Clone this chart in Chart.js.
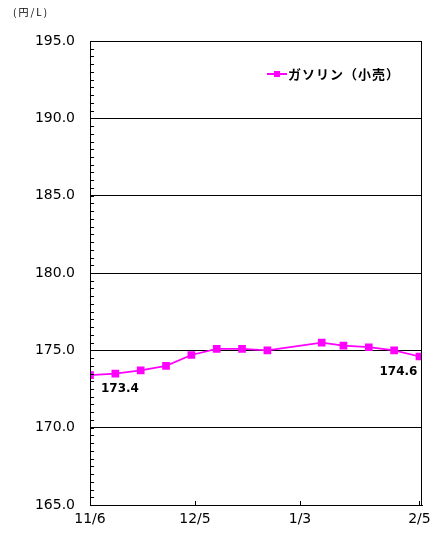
<!DOCTYPE html>
<html>
<head>
<meta charset="utf-8">
<script src="https://cdn.jsdelivr.net/npm/chart.js@4.4.1/dist/chart.umd.min.js"></script>
<style>
	html, body { margin: 0; padding: 0; background: #fff; }
	#wrap { width: 443px; height: 539px; position: relative; }
</style>
</head>
<body>
<div id="wrap"><canvas id="gasChart"></canvas></div>
<script>
// weekly survey dates and retail gasoline price (yen / litre)
const surveyDates = ['2023-11-06', '2023-11-13', '2023-11-20', '2023-11-27', '2023-12-04', '2023-12-11',
	'2023-12-18', '2023-12-25', '2024-01-09', '2024-01-15', '2024-01-22', '2024-01-29', '2024-02-05'];
const gasolinePrices = [173.4, 173.5, 173.7, 174.0, 174.7, 175.1, 175.1, 175.0, 175.5, 175.3, 175.2, 175.0, 174.6];

// x-axis labels and where they sit
const tickDates = ['2023-11-06', '2023-12-05', '2024-01-03', '2024-02-05'];
const tickLabels = ['11/6', '12/5', '1/3', '2/5'];

const seriesName = 'ガソリン（小売）';
const unitLabel = '(円/L)';

const DAY = 86400000;
const start = Date.parse(surveyDates[0]);
const dayOf = (d) => Math.round((Date.parse(d) - start) / DAY);

const points = surveyDates.map((d, i) => ({ x: dayOf(d), y: gasolinePrices[i] }));
const tickDays = tickDates.map(dayOf);

const tickFont = { family: 'DejaVu Sans', size: 14 };
const magenta = '#ff00ff';

// frame, inside tick marks, legend, unit and end-point labels
const decorations = {
	id: 'decorations',
	afterDatasetsDraw(chart) {
		const { ctx, chartArea: a, scales: { x, y } } = chart;
		ctx.save();
		ctx.strokeStyle = '#000';
		ctx.lineWidth = 1;
		ctx.strokeRect(a.left + 0.5, a.top + 0.5, a.right - a.left - 1, a.bottom - a.top);

		// minor ticks on y axis every 0.5
		ctx.beginPath();
		for (let v = y.min; v <= y.max + 0.001; v += 0.5) {
			const py = Math.round(y.getPixelForValue(v)) + 0.5;
			ctx.moveTo(a.left, py);
			ctx.lineTo(a.left + 4, py);
		}
		// x ticks pointing up
		tickDays.slice(1).forEach(d => {
			const px = Math.round(x.getPixelForValue(d)) + 0.5;
			ctx.moveTo(px, a.bottom);
			ctx.lineTo(px, a.bottom - 4);
		});
		ctx.stroke();

		// legend
		const lx = 267, ly = 74;
		ctx.strokeStyle = magenta;
		ctx.lineWidth = 2;
		ctx.beginPath();
		ctx.moveTo(lx, ly);
		ctx.lineTo(lx + 20, ly);
		ctx.stroke();
		ctx.fillStyle = magenta;
		ctx.fillRect(lx + 7, ly - 3, 6, 6);
		ctx.fillStyle = '#000';
		ctx.font = 'bold 13px "Noto Sans CJK JP"';
		ctx.textBaseline = 'middle';
		ctx.textAlign = 'left';
		ctx.letterSpacing = '1px';
		ctx.fillText(seriesName, lx + 21, ly);

		// unit
		ctx.font = '10px "Noto Sans CJK JP"';
		ctx.letterSpacing = '2px';
		ctx.fillText(unitLabel, 13, 12);
		ctx.letterSpacing = '0px';

		// first and last values
		const meta = chart.getDatasetMeta(0).data;
		const first = meta[0], last = meta[meta.length - 1];
		ctx.font = 'bold 12px "DejaVu Sans"';
		ctx.textAlign = 'left';
		ctx.fillText(gasolinePrices[0].toFixed(1), first.x + 11, first.y + 14);
		ctx.textAlign = 'right';
		ctx.fillText(gasolinePrices[gasolinePrices.length - 1].toFixed(1), last.x - 2, last.y + 15);
		ctx.restore();
	}
};

new Chart(document.getElementById('gasChart'), {
	type: 'line',
	data: {
		datasets: [{
			label: seriesName,
			data: points,
			borderColor: magenta,
			backgroundColor: magenta,
			borderWidth: 1.75,
			pointStyle: 'rect',
			pointRadius: 4.2,
			pointHoverRadius: 4.2,
			tension: 0
		}]
	},
	options: {
		responsive: true,
		maintainAspectRatio: false,
		animation: false,
		layout: { padding: { left: 0, right: 21, top: 41, bottom: 0 } },
		plugins: {
			legend: { display: false },
			tooltip: { enabled: false }
		},
		scales: {
			x: {
				type: 'linear',
				min: 0,
				max: 91.7,
				afterFit: (s) => { s.height = 34; },
				afterBuildTicks: (s) => { s.ticks = tickDays.map(v => ({ value: v })); },
				grid: { display: false, drawTicks: false },
				border: { display: true, color: '#000', width: 1 },
				ticks: {
					font: tickFont,
					color: '#000',
					padding: 6,
					maxRotation: 0,
					autoSkip: false,
					callback: (v) => tickLabels[tickDays.indexOf(v)]
				}
			},
			y: {
				min: 165,
				max: 195,
				afterFit: (s) => { s.width = 90; },
				grid: { color: '#000', lineWidth: 1, drawTicks: false },
				border: { display: true, color: '#000', width: 1 },
				ticks: {
					stepSize: 5,
					font: tickFont,
					color: '#000',
					padding: 15,
					callback: (v) => v.toFixed(1)
				}
			}
		}
	},
	plugins: [decorations]
});
</script>
</body>
</html>
